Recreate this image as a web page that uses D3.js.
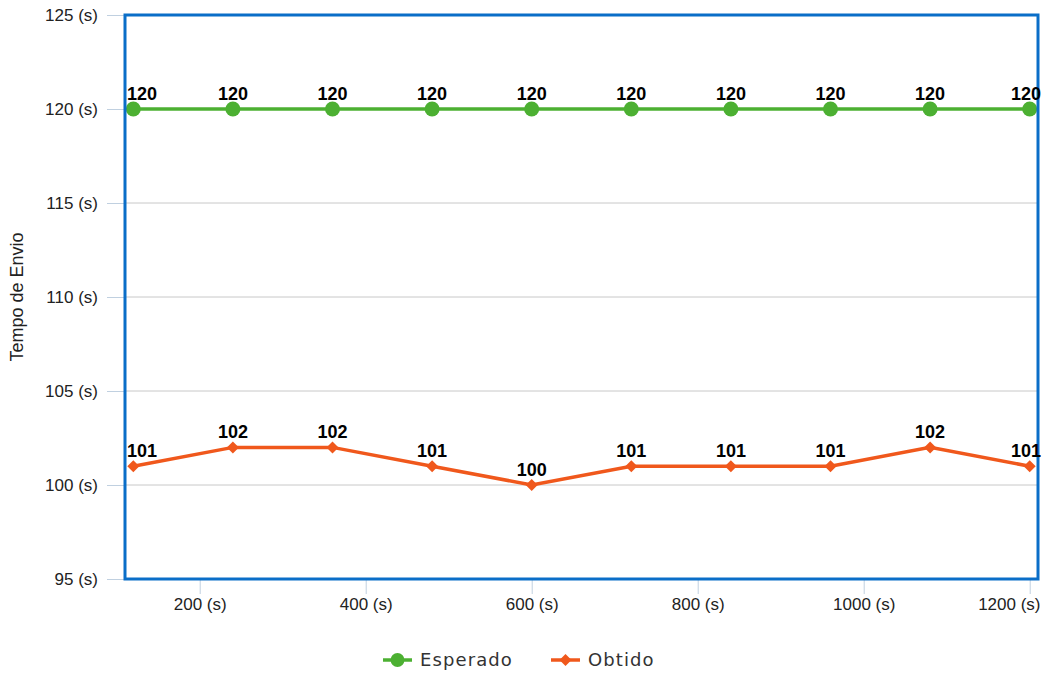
<!DOCTYPE html>
<html>
<head>
<meta charset="utf-8">
<script src="https://cdn.jsdelivr.net/npm/d3@7"></script>
<style>
  html, body { margin: 0; padding: 0; background: #fff; }
  svg { display: block; }
</style>
</head>
<body>
<svg id="chart" width="1043" height="673"></svg>
<script>
// Send-time measurements (seconds)
const times = [120, 240, 360, 480, 600, 720, 840, 960, 1080, 1200];
const esperado = [120, 120, 120, 120, 120, 120, 120, 120, 120, 120];
const obtido = [101, 102, 102, 101, 100, 101, 101, 101, 102, 101];
const yTicks = [95, 100, 105, 110, 115, 120, 125];
const xTicks = [200, 400, 600, 800, 1000, 1200];
const seriesNames = ["Esperado", "Obtido"];
const seriesColors = ["#4cb032", "#f0581c"];

const FONT = "'Liberation Sans', Arial, sans-serif";
const WIDTH = 1043;
const svg = d3.select("#chart");
const plot = { left: 125, right: 1038, top: 15, bottom: 579 };

const x = d3.scaleLinear().domain([110, 1210]).range([plot.left, plot.right]);
const y = d3.scaleLinear().domain([95, 125]).range([plot.bottom, plot.top]);

// Square diamond marker (equal width and height)
const squareDiamond = {
  draw(ctx, size) {
    const r = Math.sqrt(size / 2);
    ctx.moveTo(0, -r);
    ctx.lineTo(r, 0);
    ctx.lineTo(0, r);
    ctx.lineTo(-r, 0);
    ctx.closePath();
  }
};

// Horizontal grid lines
svg.append("g")
  .selectAll("line")
  .data(yTicks)
  .join("line")
  .attr("x1", plot.left).attr("x2", plot.right)
  .attr("y1", d => y(d)).attr("y2", d => y(d))
  .attr("stroke", "#c8c8c8").attr("stroke-width", 1);

// Y axis: short ticks and labels
const yAxis = svg.append("g")
  .attr("transform", `translate(${plot.left},0)`)
  .call(d3.axisLeft(y).tickValues(yTicks).tickSize(18).tickPadding(9)
    .tickFormat(d => `${d} (s)`));
yAxis.select(".domain").remove();
yAxis.selectAll(".tick line").attr("stroke", "#c0d0e0");
yAxis.selectAll(".tick text")
  .attr("fill", "#222").style("font-family", FONT)
  .style("font-size", "17px");

// X axis
const xAxis = svg.append("g")
  .attr("transform", `translate(0,${plot.bottom})`)
  .call(d3.axisBottom(x).tickValues(xTicks).tickSize(15).tickPadding(4)
    .tickFormat(d => `${d} (s)`));
xAxis.select(".domain").remove();
xAxis.selectAll(".tick line").attr("stroke", "#c0d0e0");
xAxis.selectAll(".tick text")
  .attr("fill", "#222").style("font-family", FONT)
  .style("font-size", "17px");
// keep the last label inside the canvas
xAxis.selectAll(".tick text")
  .filter(d => d === xTicks[xTicks.length - 1])
  .attr("text-anchor", "end")
  .attr("x", WIDTH - 3 - x(xTicks[xTicks.length - 1]));

// Y axis title
svg.append("text")
  .attr("transform", `translate(23,${(plot.top + plot.bottom) / 2}) rotate(-90)`)
  .attr("text-anchor", "middle")
  .attr("fill", "#222")
  .style("font-family", FONT)
  .style("font-size", "18px")
  .text("Tempo de Envio");

// Series lines and markers
const line = d3.line().x(d => x(d[0])).y(d => y(d[1]));
const series = [esperado, obtido].map((vals, i) => ({
  name: seriesNames[i],
  color: seriesColors[i],
  points: times.map((t, j) => [t, vals[j]])
}));

series.forEach((s, i) => {
  svg.append("path")
    .datum(s.points)
    .attr("d", line)
    .attr("fill", "none")
    .attr("stroke", s.color)
    .attr("stroke-width", 3.5);

  const marker = i === 0
    ? d3.symbol().type(d3.symbolCircle).size(177)
    : d3.symbol().type(squareDiamond).size(72);

  svg.append("g")
    .selectAll("path")
    .data(s.points)
    .join("path")
    .attr("transform", d => `translate(${x(d[0])},${y(d[1])})`)
    .attr("d", marker)
    .attr("fill", s.color);
});

// Plot frame
svg.append("rect")
  .attr("x", plot.left).attr("y", plot.top)
  .attr("width", plot.right - plot.left).attr("height", plot.bottom - plot.top)
  .attr("fill", "none")
  .attr("stroke", "#0a6ec8")
  .attr("stroke-width", 3);

// Value labels, kept right of the plot's left edge and inside the canvas
series.forEach(s => {
  svg.append("g")
    .selectAll("text")
    .data(s.points)
    .join("text")
    .attr("y", d => y(d[1]) - 9)
    .attr("text-anchor", "middle")
    .attr("fill", "#000")
    .style("font-family", FONT)
    .style("font-size", "18px")
    .style("font-weight", "bold")
    .text(d => d[1])
    .attr("x", function (d) {
      const half = this.getComputedTextLength() / 2;
      const cx = Math.max(x(d[0]), plot.left + 2 + half);
      return Math.min(cx, WIDTH - 2 - half);
    });
});

// Legend
const legend = svg.append("g").attr("transform", "translate(0,660)");
const legendItems = [
  { x: 383, textX: 420 },
  { x: 551, textX: 588 }
];
series.forEach((s, i) => {
  const it = legendItems[i];
  legend.append("line")
    .attr("x1", it.x).attr("x2", it.x + 29)
    .attr("y1", 0).attr("y2", 0)
    .attr("stroke", s.color).attr("stroke-width", 3.5);
  legend.append("path")
    .attr("transform", `translate(${it.x + 14.5},0)`)
    .attr("d", i === 0
      ? d3.symbol().type(d3.symbolCircle).size(150)()
      : d3.symbol().type(squareDiamond).size(72)())
    .attr("fill", s.color);
  legend.append("text")
    .attr("x", it.textX).attr("y", 0)
    .attr("dy", "0.36em")
    .attr("fill", "#333")
    .style("font-family", "'DejaVu Sans', sans-serif")
    .style("font-size", "18px")
    .style("letter-spacing", "1.1px")
    .text(s.name);
});
</script>
</body>
</html>
